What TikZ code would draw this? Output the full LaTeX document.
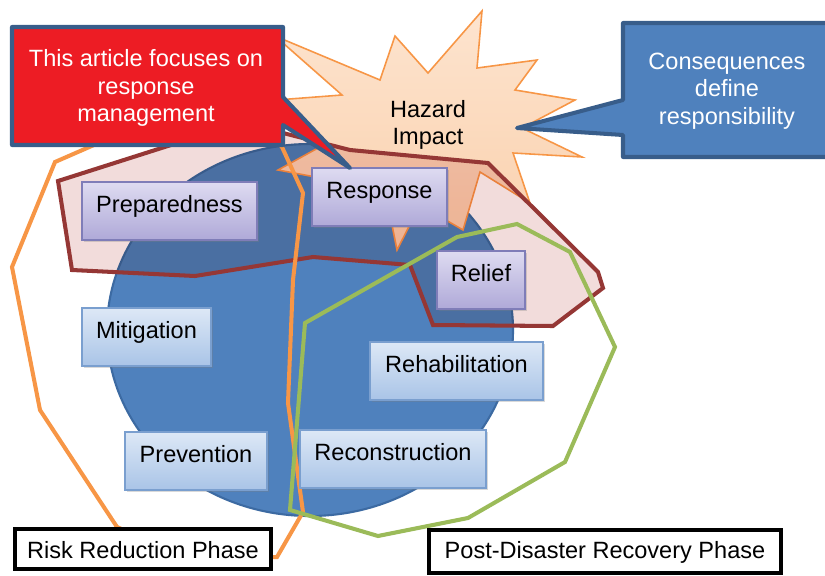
\documentclass[tikz,border=0pt]{standalone}
\usepackage{fontspec}
\setmainfont{Liberation Sans}
\usepackage{xcolor}
\usetikzlibrary{shadows}

\definecolor{diskblue}{HTML}{4F81BD}
\definecolor{diskedge}{HTML}{3C6AA2}
\definecolor{startop}{HTML}{FDE4CF}
\definecolor{starbot}{HTML}{FAD0AC}
\definecolor{staredge}{HTML}{F79646}
\definecolor{respfill}{HTML}{F2DCDB}
\definecolor{respedge}{HTML}{953735}
\definecolor{riskedge}{HTML}{F79646}
\definecolor{recovedge}{HTML}{9BBB59}
\definecolor{purpletop}{HTML}{DEDBF1}
\definecolor{purplebot}{HTML}{AFA9D8}
\definecolor{purpleedge}{HTML}{7F7DB8}
\definecolor{bluetop}{HTML}{DDE8F6}
\definecolor{bluebot}{HTML}{A9C4E7}
\definecolor{blueedge}{HTML}{7A9FCF}
\definecolor{calloutred}{HTML}{ED1C24}
\definecolor{calloutblue}{HTML}{4F81BD}
\definecolor{calloutedge}{HTML}{385D8A}

\begin{document}
\begin{tikzpicture}[x=0.02cm, y=-0.02cm,
    every node/.style={font=\fontsize{13.4}{15.6}\selectfont},
    stagebox/.style={line width=0.8pt, inner xsep=0pt, inner ysep=0pt,
        text height=0.6cm, text depth=0.56cm,
        drop shadow={shadow xshift=1pt, shadow yshift=-1pt, opacity=0.3}},
    purplebox/.style={stagebox, draw=purpleedge, top color=purpletop, bottom color=purplebot},
    bluebox/.style={stagebox, draw=blueedge, top color=bluetop, bottom color=bluebot},
    phasebox/.style={draw=black, line width=2.3pt, fill=white, inner xsep=0pt, inner ysep=0pt},
    phaseline/.style={line width=2.3pt},
    callout/.style={line width=2.3pt, draw=calloutedge, line join=round},
    callouttext/.style={text=white, align=center}]

    \useasboundingbox (0,0) rectangle (825,575);
    \clip (0,0) rectangle (825,575);

    % Disaster cycle disk
    \draw[fill=diskblue, draw=diskedge, line width=1.2pt] (310,330) ellipse [x radius=203, y radius=186];

    % Hazard impact burst
    \draw[top color=startop, bottom color=starbot, draw=staredge, line width=0.9pt]
        (482,11) -- (477,68) -- (537,60) -- (515,90) -- (575,100) -- (522,128)
        -- (582,157) -- (513,153) -- (530,203) -- (480,172) -- (463,230) -- (420,205)
        -- (397,250) -- (385,190) -- (278,170) -- (318,148) -- (250,102) -- (342,95)
        -- (275,36) -- (380,80) -- (395,36) -- (428,73) -- cycle;

    % Response phase region
    \begin{scope}[blend mode=multiply]
        \fill[respfill] (58,181) -- (72,270) -- (195,276) -- (313,257) -- (410,265)
            -- (433,325) -- (553,326) -- (603,288) -- (598,272) -- (488,163)
            -- (350,150) -- (283,133) -- (240,123) -- cycle;
    \end{scope}
    \draw[respedge, phaseline] (58,181) -- (72,270) -- (195,276) -- (313,257) -- (410,265)
        -- (433,325) -- (553,326) -- (603,288) -- (598,272) -- (488,163)
        -- (350,150) -- (283,133) -- (240,123) -- cycle;

    % Risk reduction outline
    \draw[riskedge, phaseline] (110,138) -- (55,162) -- (12,267) -- (40,410) -- (117,527)
        -- (190,560) -- (277,557) -- (303,512) -- (288,403) -- (293,280)
        -- (303,193) -- (282,147) -- (240,100) -- cycle;

    % Recovery outline
    \draw[recovedge, phaseline] (305,323) -- (457,237) -- (517,224) -- (570,252)
        -- (615,347) -- (565,462) -- (468,518) -- (378,536) -- (290,510) -- cycle;

    \node[align=center] (hazard) at (428,125) {Hazard\\Impact};

    % Stages
    \node[purplebox, minimum width=3.5cm] (prep) at (169.5,211) {Preparedness};
    \node[purplebox, minimum width=2.7cm] (resp) at (379.5,197) {Response};
    \node[purplebox, minimum width=1.76cm] (relief) at (481,280) {Relief};
    \node[bluebox, minimum width=2.58cm] (mitig) at (146.5,337) {Mitigation};
    \node[bluebox, minimum width=2.84cm] (prev) at (196,461) {Prevention};
    \node[bluebox, minimum width=3.46cm] (rehab) at (456.5,371) {Rehabilitation};
    \node[bluebox, minimum width=3.72cm] (recon) at (393,459) {Reconstruction};

    % Callouts
    \draw[callout, fill=calloutred] (12,27) -- (283,27) -- (283,97) -- (350,168)
        -- (283,125) -- (283,145) -- (12,145) -- cycle;
    \node[callouttext] (focus) at (146,88) {This article focuses on\\response\\management};

    \draw[callout, fill=calloutblue] (623,23) -- (840,23) -- (840,157) -- (623,157)
        -- (623,135) -- (517,128) -- (623,100) -- cycle;
    \node[callouttext] (conseq) at (727,91) {Consequences\\define\\responsibility};

    % Phase labels
    \node[phasebox, minimum width=5.12cm, text height=0.58cm, text depth=0.22cm] (riskphase)
        at (143,549) {Risk Reduction Phase};
    \node[phasebox, minimum width=7.04cm, text height=0.56cm, text depth=0.30cm] (recphase)
        at (605,551.5) {Post-Disaster Recovery Phase};
\end{tikzpicture}
\end{document}
